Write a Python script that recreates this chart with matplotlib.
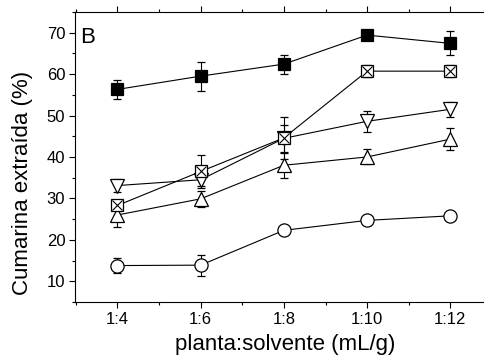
import numpy as np
import matplotlib.pyplot as plt

plt.rcParams['font.family'] = ['Liberation Sans', 'DejaVu Sans']

ratios = ['1:4', '1:6', '1:8', '1:10', '1:12']

sq_filled = [56.3, 59.5, 62.4, 69.4, 67.4]
sq_filled_err = [2.2, 3.5, 2.3, 0.8, 2.9]

sq_cross = [28.3, 36.5, 44.6, 60.7, 60.7]
sq_cross_err = [1.0, 4.0, 5.0, 1.5, 1.5]

tri_down = [33.1, 34.5, 44.5, 48.6, 51.5]
tri_down_err = [1.5, 1.5, 3.3, 2.5, 1.8]

tri_up = [26.0, 29.9, 38.0, 40.0, 44.3]
tri_up_err = [3.0, 2.0, 3.0, 1.8, 2.6]

circ = [13.8, 13.9, 22.3, 24.7, 25.8]
circ_err = [1.8, 2.5, 1.0, 1.2, 1.0]

x = np.arange(1, len(ratios) + 1)

fig = plt.figure(figsize=(4.84, 3.6), dpi=100)
ax = fig.add_axes([0.155, 0.161, 0.87, 0.806])

common = dict(color='black', lw=0.8, elinewidth=0.8, capsize=3, capthick=0.8,
              markeredgewidth=0.9)

ax.errorbar(x, circ, yerr=circ_err, fmt='-o', ms=9.5, mfc='white', mec='black', **common)
ax.errorbar(x, tri_up, yerr=tri_up_err, fmt='-^', ms=10, mfc='white', mec='black', **common)
ax.errorbar(x, tri_down, yerr=tri_down_err, fmt='-v', ms=10, mfc='white', mec='black', **common)
ax.errorbar(x, sq_cross, yerr=sq_cross_err, fmt='-s', ms=8, mfc='white', mec='black', **common)
# the cross inside the open squares
ax.plot(x, sq_cross, 'x', ms=7.5, color='black', mew=0.8, ls='none', zorder=10)
ax.errorbar(x, sq_filled, yerr=sq_filled_err, fmt='-s', ms=8, mfc='black', mec='black', **common)

ax.set_xlim(0.49, 5.55)
ax.set_ylim(5, 75)
ax.set_xticks(x)
ax.set_xticklabels(ratios)
ax.set_xticks(np.arange(0.5, 6, 1), minor=True)
ax.set_yticks([10, 20, 30, 40, 50, 60, 70])
ax.set_yticks(np.arange(5, 76, 5), minor=True)

ax.tick_params(which='both', direction='out', top=True, right=False, labelsize=12, width=0.8)
ax.tick_params(which='major', length=4, pad=3)
ax.tick_params(which='minor', length=2.5)
for s in ax.spines.values():
    s.set_linewidth(0.8)

ax.set_xlabel('planta:solvente (mL/g)', fontsize=16, labelpad=5)
ax.set_ylabel('Cumarina extraída (%)', fontsize=16)
ax.yaxis.set_label_coords(-0.10, 0.41)
ax.text(0.012, 0.893, 'B', transform=ax.transAxes, fontsize=16, va='baseline', ha='left')

fig.savefig('out.png', dpi=100)
